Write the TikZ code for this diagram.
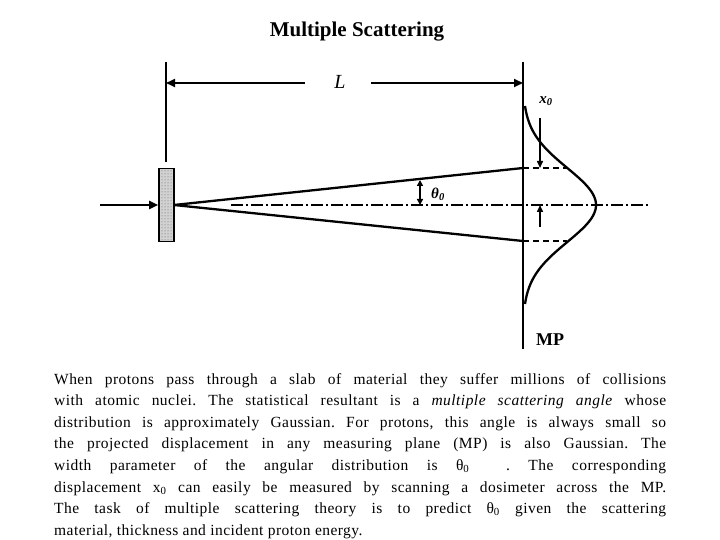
\documentclass[tikz,border=0pt]{standalone}
\usepackage{fontspec}
\setmainfont{Liberation Serif}
\newfontfamily\bodyfont[LetterSpace=3]{Liberation Serif}
\usetikzlibrary{arrows.meta,patterns}
\begin{document}
\begin{tikzpicture}[x=1pt,y=-1pt,
  thick line/.style={line width=2.3pt},
  tip/.style={-{Triangle[length=9pt,width=8pt]}},
  lab/.style={inner sep=0pt,font=\bfseries\itshape\fontsize{15}{15}\selectfont}]
\useasboundingbox (0,0) rectangle (720,540);
\node[font=\bfseries\fontsize{21}{21}\selectfont] (title) at (357,32) {Multiple Scattering};
% left line and MP line
\coordinate (lt) at (166,62); \coordinate (lb) at (166,162);
\draw[thick line] (lt) -- (lb);
\coordinate (mt) at (523,62); \coordinate (mb) at (523,349);
\draw[thick line] (mt) -- (mb);
% L dimension
\node[inner sep=0pt,font=\itshape\fontsize{20}{20}\selectfont] (L) at (340,82) {L};
\coordinate (la) at (166,83); \coordinate (lc) at (523,83);
\draw[line width=1.8pt,tip] (305,83) -- (la);
\draw[line width=1.8pt,tip] (371,83) -- (lc);
% slab
\node[draw,line width=1.6pt,preaction={fill=gray!35},pattern=dots,pattern color=gray!70!black,minimum width=15pt,minimum height=73pt,inner sep=0pt] (slab) at (166.5,205) {};
% incoming arrow
\coordinate (in) at (100,205);
\draw[line width=2pt,tip] (in) -- (slab.west);
% rays
\coordinate (o) at (174,205);
\coordinate (rt) at (523,168); \coordinate (rb) at (523,241);
\draw[thick line] (o) -- (rt);
\draw[thick line] (o) -- (rb);
\draw[thick line,dash pattern=on 6pt off 4pt] (rt) -- (567,168);
\draw[thick line,dash pattern=on 6pt off 4pt] (rb) -- (567,241);
% center line
\draw[line width=1.2pt,dash pattern=on 12pt off 3pt on 2pt off 3pt] (231,205) -- (648,205);
% gaussian
\draw[thick line,domain=106:304,samples=80,smooth,variable=\t] plot ({523+73*exp(-((\t-205)^2)/(2*37*37))},{\t});
% theta arrow
\coordinate (ta) at (420,180); \coordinate (tb) at (420,205);
\draw[line width=1.5pt,{Triangle[length=6pt,width=6pt]}-{Triangle[length=6pt,width=6pt]}] (ta) -- (tb);
\node[inner sep=0pt,font=\bfseries\itshape\fontsize{15}{15}\selectfont] (th) at (438,194) {θ\textsubscript{0}};
% x0 arrows
\node[lab] (x0) at (546,101) {x\textsubscript{0}};
\coordinate (xa) at (540,118); \coordinate (xb) at (540,168);
\draw[line width=1.5pt,-{Triangle[length=7pt,width=6pt]}] (xa) -- (xb);
\coordinate (xc) at (540,227); \coordinate (xd) at (540,205);
\draw[line width=1.5pt,-{Triangle[length=7pt,width=6pt]}] (xc) -- (xd);
\node[font=\bfseries\fontsize{18}{18}\selectfont] (mp) at (550,340) {MP};
% text
\node[anchor=north west,inner sep=0pt,text width=612pt,align=justify,font=\bodyfont\frenchspacing\fontsize{15.5}{21.6}\selectfont] (txt) at (54,373) {When protons pass through a slab of material they suffer millions of collisions\linebreak with atomic nuclei. The statistical resultant is a \textit{multiple scattering angle} whose\linebreak distribution is approximately Gaussian. For protons, this angle is always small so\linebreak the projected displacement in any measuring plane (MP) is also Gaussian. The\linebreak width parameter of the angular distribution is θ\textsubscript{0}\ \ . The corresponding\linebreak displacement x\textsubscript{0} can easily be measured by scanning a dosimeter across the MP.\linebreak The task of multiple scattering theory is to predict θ\textsubscript{0} given the scattering\linebreak material, thickness and incident proton energy.};
\end{tikzpicture}
\end{document}
